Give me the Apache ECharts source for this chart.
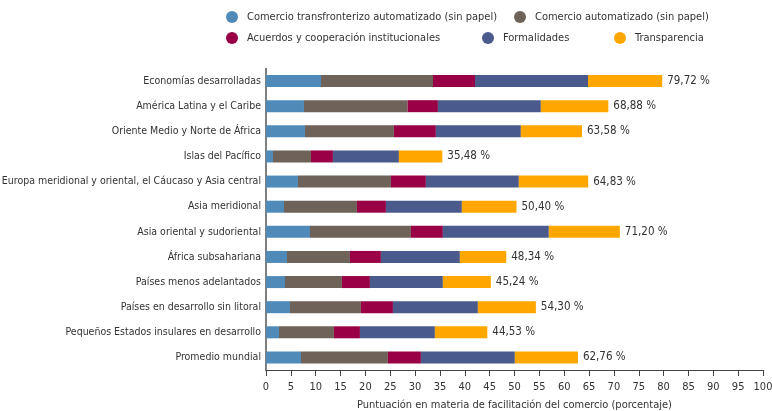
<!DOCTYPE html>
<html>
<head>
<meta charset="utf-8">
<script src="https://cdn.jsdelivr.net/npm/echarts@6/dist/echarts.min.js"></script>
<style>
  html, body { margin: 0; padding: 0; background: #fff; }
  #chart { width: 772px; height: 411px; }
</style>
</head>
<body>
<div id="chart"></div>
<script>
// Regions, top to bottom
const regions = [
  'Economías desarrolladas',
  'América Latina y el Caribe',
  'Oriente Medio y Norte de África',
  'Islas del Pacífico',
  'Europa meridional y oriental, el Cáucaso y Asia central',
  'Asia meridional',
  'Asia oriental y sudoriental',
  'África subsahariana',
  'Países menos adelantados',
  'Países en desarrollo sin litoral',
  'Pequeños Estados insulares en desarrollo',
  'Promedio mundial'
];

// Component scores (percentage points)
const paperlessCrossBorder = [11.07, 7.64, 7.84, 1.41, 6.43, 3.62, 8.85, 4.22, 3.82, 4.83, 2.61, 7.04];
const paperless            = [22.53, 20.85, 17.90, 7.64, 18.71, 14.68, 20.31, 12.67, 11.46, 14.27, 11.06, 17.49];
const institutional        = [8.45, 6.10, 8.44, 4.42, 7.03, 5.83, 6.43, 6.23, 5.63, 6.44, 5.23, 6.64];
const formalities          = [22.74, 20.71, 17.10, 13.27, 18.70, 15.28, 21.32, 15.89, 14.68, 17.09, 15.08, 18.90];
const transparency         = [14.93, 13.58, 12.30, 8.74, 13.96, 10.99, 14.29, 9.33, 9.65, 11.67, 10.55, 12.69];

// Overall scores shown at the end of each bar
const totals = [79.72, 68.88, 63.58, 35.48, 64.83, 50.40, 71.20, 48.34, 45.24, 54.30, 44.53, 62.76];

const xTicks = { min: 0, max: 100, step: 5 };

const seriesNames = [
  'Comercio transfronterizo automatizado (sin papel)',
  'Comercio automatizado (sin papel)',
  'Acuerdos y cooperación institucionales',
  'Formalidades',
  'Transparencia'
];
const seriesData = [paperlessCrossBorder, paperless, institutional, formalities, transparency];
const colors = ['#4f8ab9', '#6f6259', '#990045', '#4b5a8c', '#ffa600'];

const FONT = '"Liberation Sans Narrow", "DejaVu Sans Condensed", "Liberation Sans", sans-serif';
const fmt = v => v.toFixed(2).replace('.', ',') + ' %';

// Two-row legend laid out on a grid of columns
const legendPos = [
  { left: 221, top: 6 },
  { left: 509, top: 6 },
  { left: 221, top: 27 },
  { left: 477, top: 27 },
  { left: 609, top: 27 }
];

const chart = echarts.init(document.getElementById('chart'), null, { renderer: 'canvas' });

chart.setOption({
  animation: false,
  textStyle: { fontFamily: FONT },
  color: colors,
  legend: seriesNames.map((name, i) => ({
    data: [name],
    left: legendPos[i].left,
    top: legendPos[i].top,
    icon: 'circle',
    itemWidth: 12,
    itemHeight: 12,
    itemGap: 0,
    selectedMode: false,
    textStyle: { fontFamily: FONT, fontSize: 11, color: '#333', padding: [0, 0, 0, 4] }
  })),
  grid: { left: 266, right: 9, top: 68.5, bottom: 41, containLabel: false, outerBoundsMode: 'none' },
  xAxis: {
    type: 'value',
    min: xTicks.min,
    max: xTicks.max,
    interval: xTicks.step,
    name: 'Puntuación en materia de facilitación del comercio (porcentaje)',
    nameLocation: 'middle',
    nameGap: 30,
    nameTextStyle: { fontFamily: FONT, fontSize: 11, color: '#333' },
    axisLine: { show: true, lineStyle: { color: '#444', width: 1 } },
    axisTick: { show: true, length: 6, lineStyle: { color: '#444' } },
    axisLabel: { fontFamily: FONT, fontSize: 11, color: '#333', margin: 12 },
    splitLine: { show: false }
  },
  yAxis: {
    type: 'category',
    data: regions,
    inverse: true,
    axisLine: { show: true, lineStyle: { color: '#555', width: 1.5 } },
    axisTick: { show: false },
    axisLabel: { fontFamily: FONT, fontSize: 10.5, color: '#333', margin: 5 }
  },
  series: seriesNames.map((name, i) => ({
    name,
    type: 'bar',
    stack: 'total',
    barWidth: 12,
    data: seriesData[i],
    itemStyle: { color: colors[i] },
    label: i === seriesNames.length - 1 ? {
      show: true,
      position: 'right',
      distance: 5,
      fontFamily: FONT,
      fontSize: 11.5,
      color: '#333',
      formatter: p => fmt(totals[p.dataIndex])
    } : { show: false }
  }))
});
</script>
</body>
</html>
